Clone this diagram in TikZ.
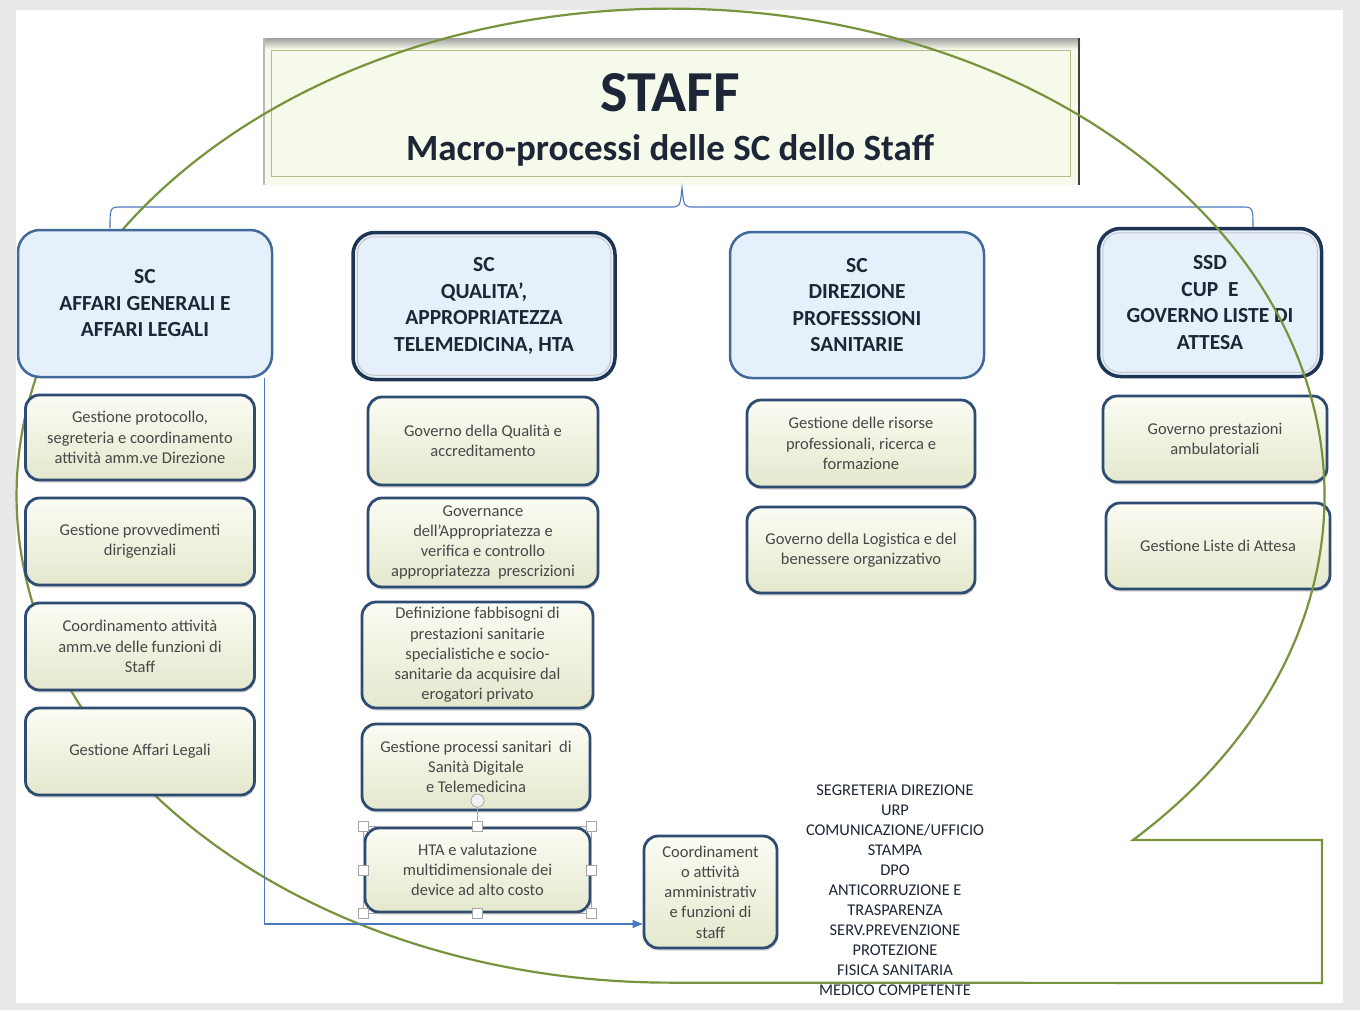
\documentclass[tikz,border=0pt]{standalone}
\usepackage{fontspec}
\setmainfont{Carlito}
\usetikzlibrary{shadows,arrows.meta}

\definecolor{hdrfill}{HTML}{E6F0FB}
\definecolor{hdrline}{HTML}{41699A}
\definecolor{hdrdark}{HTML}{1F3554}
\definecolor{boxline}{HTML}{2E4C72}
\definecolor{boxtop}{HTML}{FBFCF3}
\definecolor{boxbot}{HTML}{E4E8CD}
\definecolor{calloutgreen}{HTML}{77933C}
\definecolor{linkblue}{HTML}{4A78BE}
\definecolor{inktext}{HTML}{1C2636}
\definecolor{pagegray}{HTML}{E8E8E8}
\definecolor{titlefill}{HTML}{F6FAEA}

\tikzset{
  hdr/.style={draw=hdrline, line width=2.5pt, fill=hdrfill, rounded corners=22pt,
    align=center, inner sep=2pt, text=inktext,
    font=\fontsize{21.5}{26.5}\selectfont\bfseries},
  hdrdeep/.style={hdr, draw=hdrdark, line width=3.5pt},
  bevel/.style={draw=gray!45, line width=1pt, rounded corners=17pt},
  proc/.style={draw=boxline, line width=2.8pt, rounded corners=14pt,
    top color=boxtop, bottom color=boxbot, align=center, inner sep=2pt,
    text=black!72, font=\fontsize{16.5}{20.3}\selectfont,
    drop shadow={shadow xshift=1pt, shadow yshift=-2.5pt, opacity=.35}},
  titlebox/.style={fill=titlefill, minimum width=817pt, minimum height=147pt, outer sep=0pt},
  titleinner/.style={draw=gray!55!olive!60, line width=.8pt},
  link/.style={draw=linkblue, line width=1.1pt},
  bracket/.style={draw=linkblue, line width=1.1pt},
  callout/.style={draw=calloutgreen, line width=2.2pt, line join=miter},
  stafflist/.style={align=center, text=inktext, font=\fontsize{16.4}{20}\selectfont},
  handle/.style={draw=gray!70, fill=white, line width=.8pt, minimum size=10pt, inner sep=0pt},
  rothandle/.style={circle, draw=gray!70, fill=gray!10, line width=.8pt, minimum size=13pt, inner sep=0pt}
}

\begin{document}
\begin{tikzpicture}[x=1pt,y=-1pt]
\useasboundingbox (0,0) rectangle (1360,1010);
% page
\fill[pagegray] (0,0) rectangle (1360,1010);
\fill[white] (16,10) rectangle (1343,1003);

% title
\node[titlebox] (title) at (671.5,111.5) {};
\shade[top color=gray!75, bottom color=titlefill] (title.north west) rectangle ([yshift=-11pt]title.north east);
\draw[gray!55, line width=2pt] ([xshift=1pt]title.north west) -- ([xshift=1pt]title.south west);
\draw[black!75, line width=2.5pt] ([xshift=-1pt]title.north east) -- ([xshift=-1pt]title.south east);
\draw[titleinner] ([shift={(8,12)}]title.north west) rectangle ([shift={(-10,-9)}]title.south east);
\node[anchor=base, text=inktext, font=\fontsize{58}{60}\selectfont\bfseries] (staff) at (670,111) {STAFF};
\node[anchor=base, text=inktext, font=\fontsize{37}{40}\selectfont\bfseries] (sub) at (670,160) {Macro-processi delle SC dello Staff};

% bracket
\coordinate (brL) at (110,228);
\coordinate (brR) at (1253,228);
\coordinate (brT) at (682,188);
\draw[bracket] (brL) .. controls (110,207) .. (122,207) -- (670,207) .. controls (680,207) .. (brT)
  .. controls (684,207) .. (694,207) -- (1241,207) .. controls (1253,207) .. (brR);

% headers
\node[hdrdeep, minimum width=262pt, minimum height=147pt] (h2) at (484,306) {SC\\QUALITA’,\\APPROPRIATEZZA\\TELEMEDICINA, HTA};
\draw[bevel] ([shift={(6,6)}]h2.north west) rectangle ([shift={(-6,-6)}]h2.south east);
\node[hdr, minimum width=254pt, minimum height=146pt] (h3) at (857,305) {SC\\DIREZIONE\\PROFESSSIONI\\SANITARIE};
\node[hdrdeep, minimum width=223pt, minimum height=148pt] (h4) at (1210,302.5) {SSD\\CUP\ \ E\\GOVERNO LISTE DI\\ATTESA};
\draw[bevel] ([shift={(6,6)}]h4.north west) rectangle ([shift={(-6,-6)}]h4.south east);

% column 2
\node[proc, minimum width=230pt, minimum height=88pt] (b1) at (483,441) {Governo della Qualità e\\accreditamento};
\node[proc, minimum width=230pt, minimum height=89pt] (b2) at (483,542.5) {Governance\\dell'Appropriatezza e\\verifica e controllo\\appropriatezza\ \ prescrizioni};
\node[proc, minimum width=231pt, minimum height=106pt] (b3) at (477.5,655) {Definizione fabbisogni di\\prestazioni sanitarie\\specialistiche e socio-\\sanitarie da acquisire dal\\erogatori privato};
\node[proc, minimum width=228pt, minimum height=86pt] (b4) at (476,767) {Gestione processi sanitari\ \ di\\Sanità Digitale\\e Telemedicina};
\node[proc, minimum width=225pt, minimum height=84pt] (b5) at (477.5,870) {HTA e valutazione\\multidimensionale dei\\device ad alto costo};

% column 3
\node[proc, minimum width=228pt, minimum height=87pt] (c1) at (861,443.5) {Gestione delle risorse\\professionali, ricerca e\\formazione};
\node[proc, minimum width=228pt, minimum height=86pt] (c2) at (861,550) {Governo della Logistica e del\\benessere organizzativo};

% column 4
\node[proc, minimum width=224pt, minimum height=86pt] (d1) at (1215,439) {Governo prestazioni\\ambulatoriali};
\node[proc, minimum width=224pt, minimum height=86pt] (d2) at (1218,546) {Gestione Liste di Attesa};

% staff coordination
\node[proc, minimum width=133pt, minimum height=112pt] (e) at (710.5,892) {Coordinament\\o attività\\amministrativ\\e funzioni di\\staff};

% staff offices
\node[stafflist] (list) at (895,890) {SEGRETERIA DIREZIONE\\URP\\COMUNICAZIONE/UFFICIO\\STAMPA\\DPO\\ANTICORRUZIONE E\\TRASPARENZA\\SERV.PREVENZIONE\\PROTEZIONE\\FISICA SANITARIA\\MEDICO COMPETENTE};

% callout outline
\draw[callout] (1133,840) arc[start angle=45, end angle=-270, x radius=654, y radius=487]
  -- (1322,983) -- (1322,840) -- cycle;

% column 1 (in front of the outline)
\node[hdr, minimum width=254pt, minimum height=147pt] (h1) at (145,303.5) {SC\\AFFARI GENERALI E\\AFFARI LEGALI};
\node[proc, minimum width=229pt, minimum height=85pt] (a1) at (140,437.5) {Gestione protocollo,\\segreteria e coordinamento\\attività amm.ve Direzione};
\node[proc, minimum width=229pt, minimum height=87pt] (a2) at (140,541.5) {Gestione provvedimenti\\dirigenziali};
\node[proc, minimum width=229pt, minimum height=87pt] (a3) at (140,646.5) {Coordinamento attività\\amm.ve delle funzioni di\\Staff};
\node[proc, minimum width=229pt, minimum height=87pt] (a4) at (140,751.5) {Gestione Affari Legali};

\draw[link, -{Triangle[length=10pt, width=8pt]}] ([xshift=-9pt]h1.south east) |- ([yshift=-32pt]e.west);

% selection of b5
\draw[draw=gray!70, line width=.6pt] (b5.north west) rectangle (b5.south east);
\draw[draw=gray!70, line width=.8pt] (b5.north) -- ++(0,-26) node[rothandle] (rot) {};
\foreach \a in {north west,north,north east,east,south east,south,south west,west}
  \node[handle] (hd-\a) at (b5.\a) {};
\end{tikzpicture}
\end{document}
